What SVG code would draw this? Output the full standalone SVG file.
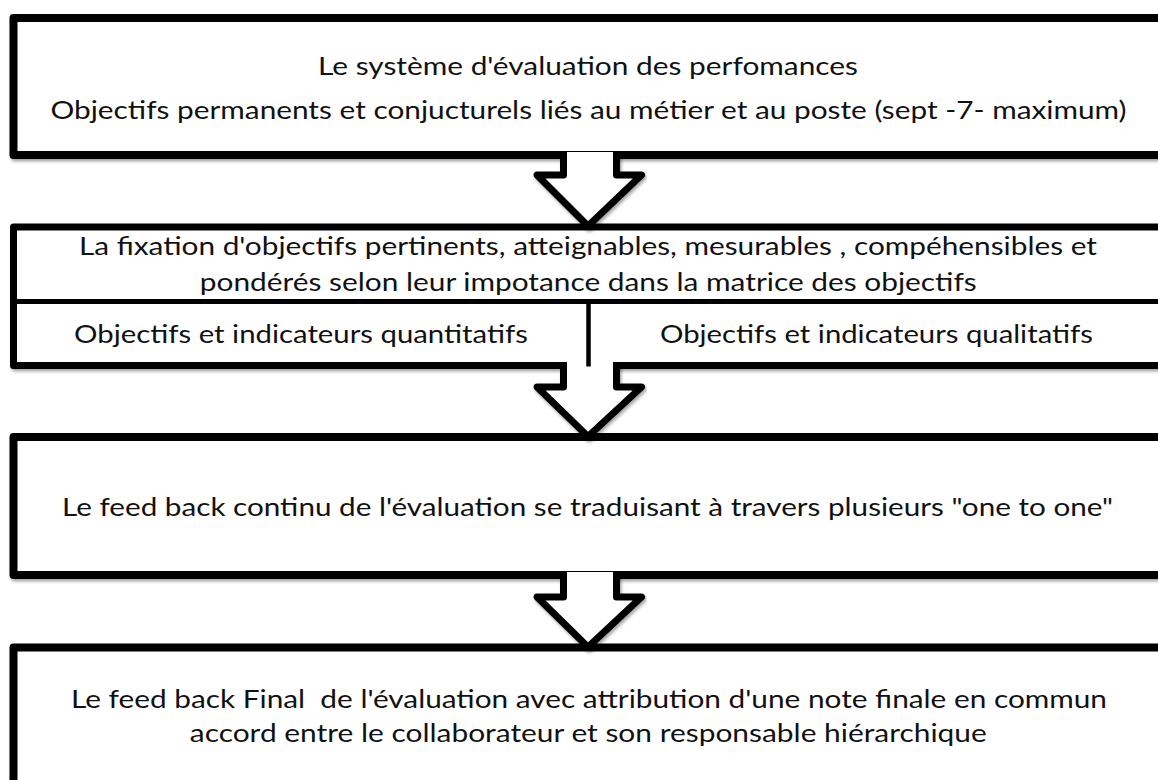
<svg xmlns="http://www.w3.org/2000/svg" width="1158" height="780" viewBox="0 0 1158 780">
  <defs>
    <filter id="soft" x="-5%" y="-20%" width="110%" height="150%">
      <feDropShadow dx="1.5" dy="2.5" stdDeviation="1.6" flood-color="#000" flood-opacity="0.35"/>
    </filter>
    <style>
      .box { fill: #fff; stroke: #000; stroke-width: 8; stroke-linejoin: round; }
      .box2 { fill: #fff; stroke: #000; stroke-width: 7; stroke-linejoin: round; }
      .div { stroke: #000; stroke-width: 4.5; fill: none; }
      .arrow { fill: #fff; stroke: #000; stroke-width: 7; stroke-linejoin: round; stroke-linecap: butt; }
      .t { font-family: Lato, "Open Sans", "Liberation Sans", sans-serif; font-size: 25px; fill: #111; text-anchor: middle; }
    </style>
  </defs>
  <rect width="1158" height="780" fill="#fff"/>

  <!-- step 1 -->
  <g id="node-systeme" filter="url(#soft)">
    <rect class="box" x="13.5" y="18" width="1152" height="137"/>
  </g>
  <g id="label-systeme">
    <text class="t" x="588" y="75" textLength="540" lengthAdjust="spacingAndGlyphs">Le système d'évaluation des perfomances</text>
    <text class="t" x="588.5" y="119" textLength="1076" lengthAdjust="spacingAndGlyphs">Objectifs permanents et conjucturels liés au métier et au poste (sept -7- maximum)</text>
  </g>

  <!-- step 2: objectives table -->
  <g id="node-fixation" filter="url(#soft)">
    <rect class="box2" x="13.5" y="227" width="1152" height="138.5"/>
    <line class="div" x1="13.5" y1="301.5" x2="1165.5" y2="301.5" style="stroke-width:5"/>
  </g>
  <g id="label-fixation">
    <text class="t" x="588" y="255" textLength="1018" lengthAdjust="spacingAndGlyphs">La fixation d'objectifs pertinents, atteignables, mesurables , compéhensibles et</text>
    <text class="t" x="588.3" y="291" textLength="777" lengthAdjust="spacingAndGlyphs">pondérés selon leur impotance dans la matrice des objectifs</text>
    <text class="t" x="301" y="343" textLength="454" lengthAdjust="spacingAndGlyphs">Objectifs et indicateurs quantitatifs</text>
    <text class="t" x="876.5" y="343" textLength="433" lengthAdjust="spacingAndGlyphs">Objectifs et indicateurs qualitatifs</text>
  </g>

  <!-- step 3 -->
  <g id="node-feedback-continu" filter="url(#soft)">
    <rect class="box" x="13.5" y="437" width="1152" height="138"/>
  </g>
  <g id="label-feedback-continu">
    <text class="t" x="587.5" y="516" textLength="1051" lengthAdjust="spacingAndGlyphs">Le feed back continu de l'évaluation se traduisant à travers plusieurs "one to one"</text>
  </g>

  <!-- step 4 -->
  <g id="node-feedback-final" filter="url(#soft)">
    <rect class="box" x="13.5" y="647.5" width="1152" height="200"/>
  </g>
  <g id="label-feedback-final">
    <text class="t" x="589" y="708" textLength="1036" lengthAdjust="spacingAndGlyphs" xml:space="preserve">Le feed back Final  de l'évaluation avec attribution d'une note finale en commun</text>
    <text class="t" x="588.3" y="742" textLength="797" lengthAdjust="spacingAndGlyphs">accord entre le collaborateur et son responsable hiérarchique</text>
  </g>

  <!-- block arrows between steps -->
  <g id="connectors" filter="url(#soft)">
    <path class="arrow" d="M563.5,152 V175 H537 L588,226 L641.5,175 H616.5 V152"/>
    <path class="arrow" d="M563.5,362 V387 H537 L588,436.5 L641.5,387 H616.5 V362"/>
    <path class="arrow" d="M563.5,572 V597 H537 L588,647 L641.5,597 H616.5 V572"/>
  </g>

  <!-- column divider of the objectives table, running down to the lower edge -->
  <line id="node-fixation-divider" class="div" x1="588.5" y1="301.5" x2="588.5" y2="366.5"/>
</svg>
